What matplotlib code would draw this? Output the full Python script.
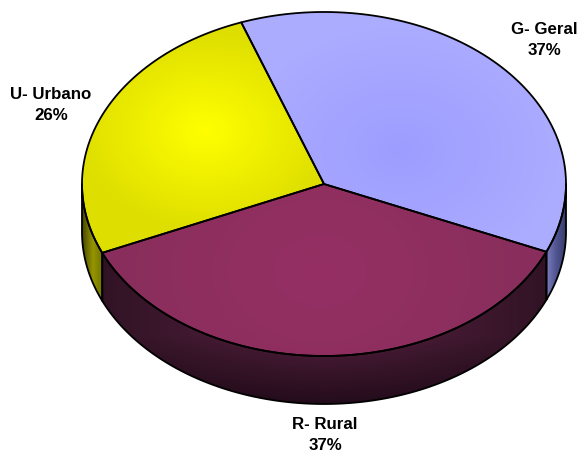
import numpy as np
import matplotlib
matplotlib.use("Agg")
import matplotlib.pyplot as plt
from matplotlib.patches import Polygon

plt.rcParams["font.family"] = ["Liberation Sans", "DejaVu Sans"]

labels = ["G- Geral", "R- Rural", "U- Urbano"]
values = [37, 37, 26]
pct_labels = ["37%", "37%", "26%"]
start_angle = 110

# pixel geometry of the tilted pie
cx, cy = 324, 184
rx, ry = 242, 172
depth = 48


def ell(a):
    a = np.radians(a)
    return cx + rx * np.cos(a), cy - ry * np.sin(a)


def top_poly(a1, a2):
    t = np.linspace(a1, a2, 200)
    x, y = ell(t)
    return np.column_stack([np.r_[cx, x], np.r_[cy, y]])


def side_poly(a1, a2):
    t = np.linspace(a1, a2, 200)
    x, y = ell(t)
    return np.column_stack([np.r_[x, x[::-1]], np.r_[y, y[::-1] + depth]])


def fill_grad(ax, pts, img, extent):
    p = Polygon(pts, closed=True, fc="none", ec="none", transform=ax.transData)
    ax.add_patch(p)
    im = ax.imshow(img, extent=extent, aspect="auto", interpolation="bilinear", zorder=2)
    im.set_clip_path(p)
    ax.add_patch(Polygon(pts, closed=True, fc="none", ec="black", lw=1.3, zorder=3, joinstyle="round"))


def radial(c0, c1, x0, y0, r):
    yy, xx = np.mgrid[0:450, 0:577]
    d = np.clip(np.hypot(xx - x0, (yy - y0) * 1.3) / r, 0, 1)[..., None]
    return (np.array(c0) * (1 - d) + np.array(c1) * d) / 255


def horiz(stops, x0, x1):
    xs = np.linspace(x0, x1, 60)
    pos = np.linspace(x0, x1, len(stops))
    s = np.array(stops, float)
    row = np.column_stack([np.interp(xs, pos, s[:, i]) for i in range(3)]) / 255
    return row[None, :, :]


def front_wall():
    # dark at the bottom and towards both ends of the wall
    yy, xx = np.mgrid[250:405, 100:550]
    v = np.clip((yy - 335) / 68, 0, 1)
    h = np.abs(xx - 325) / 225
    top = np.array((78, 30, 58), float)
    bot = np.array((36, 12, 27), float)
    col = top * (1 - v[..., None]) + bot * v[..., None]
    return col * (1 - 0.38 * h[..., None] ** 1.5) / 255


fig = plt.figure(figsize=(5.77, 4.5), dpi=100)
ax = fig.add_axes([0, 0, 1, 1])

angles = start_angle - np.r_[0, np.cumsum(values)] * 3.6

# side walls
fill_grad(ax, side_poly(angles[1], 0), horiz([(125, 125, 190), (80, 85, 145), (55, 60, 110)], 546, 566), (546, 566, 310, 180))
fill_grad(ax, side_poly(angles[2], angles[1]), front_wall(), (100, 550, 405, 250))
fill_grad(ax, side_poly(180, angles[2] + 360), horiz([(70, 70, 0), (150, 150, 0), (110, 110, 0)], 82, 104), (82, 104, 305, 180))

# top faces
full = (0, 577, 450, 0)
fill_grad(ax, top_poly(angles[1], angles[0]), radial((157, 157, 255), (172, 172, 255), 400, 150, 170), full)
fill_grad(ax, top_poly(angles[2], angles[1]), radial((150, 48, 100), (137, 46, 92), 320, 270, 200), full)
fill_grad(ax, top_poly(angles[3], angles[2]), radial((255, 255, 0), (222, 222, 0), 205, 130, 130), full)

# labels
lab_xy = [(544, 40), (325, 435), (51, 105)]
for (x, y), name, pct in zip(lab_xy, labels, pct_labels):
    ax.text(x, y, name + "\n" + pct, ha="center", va="center", fontsize=12.2,
            fontweight="bold", linespacing=1.55, zorder=5)

ax.set_xlim(0, 577)
ax.set_ylim(450, 0)
ax.axis("off")
fig.savefig("out.png", dpi=100)
